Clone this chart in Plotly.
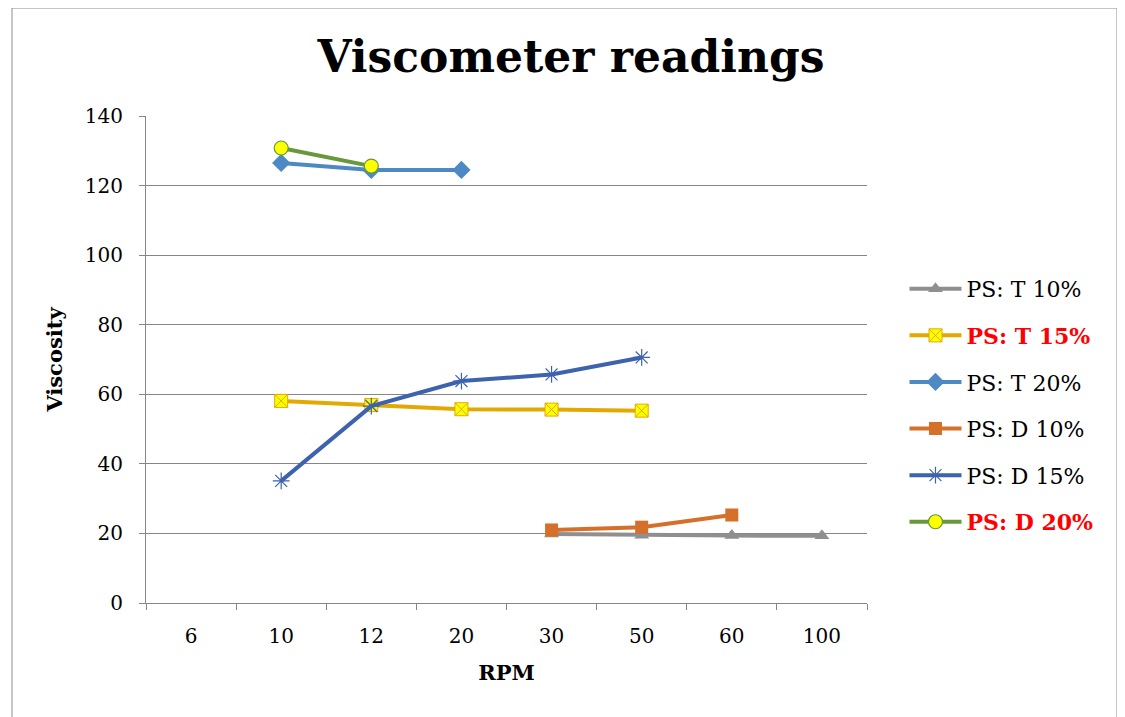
import plotly.graph_objects as go

categories = ["6", "10", "12", "20", "30", "50", "60", "100"]
series_names = ["PS: T 10%", "PS: T 15%", "PS: T 20%", "PS: D 10%", "PS: D 15%", "PS: D 20%"]
t10 = [None, None, None, None, 19.8, 19.5, 19.4, 19.3]
t15 = [None, 58.1, 56.9, 55.7, 55.6, 55.3, None, None]
t20 = [None, 126.5, 124.5, 124.5, None, None, None, None]
d10 = [None, None, None, None, 21.0, 21.8, 25.3, None]
d15 = [None, 35.1, 56.6, 63.8, 65.7, 70.6, None, None]
d20 = [None, 130.8, 125.6, None, None, None, None, None]
y_ticks = [0, 20, 40, 60, 80, 100, 120, 140]

FONT = "DejaVu Serif"

styles = [
    dict(line=dict(color="#8F8F8F", width=4),
         marker=dict(symbol="triangle-up", size=13, color="#8F8F8F", line=dict(width=0))),
    dict(line=dict(color="#E3A903", width=4),
         marker=dict(symbol="square-x", size=13, color="#FFFF00", line=dict(color="#E3A903", width=1))),
    dict(line=dict(color="#4D89C2", width=4),
         marker=dict(symbol="diamond", size=14, color="#4D89C2", line=dict(width=0))),
    dict(line=dict(color="#D5702B", width=4),
         marker=dict(symbol="square", size=13, color="#D5702B", line=dict(width=0))),
    dict(line=dict(color="#3E63AE", width=4),
         marker=dict(symbol="asterisk-open", size=14, color="#3E63AE", line=dict(color="#3E63AE", width=1.2))),
    dict(line=dict(color="#67983A", width=4),
         marker=dict(symbol="circle", size=14, color="#FFFF00", line=dict(color="#67983A", width=1.2))),
]

labels = [
    "PS: T 10%",
    "<b><span style='color:#FF0000'>PS: T 15%</span></b>",
    "PS: T 20%",
    "PS: D 10%",
    "PS: D 15%",
    "<b><span style='color:#FF0000'>PS: D 20%</span></b>",
]

fig = go.Figure()
for i, vals in enumerate([t10, t15, t20, d10, d15, d20]):
    fig.add_trace(go.Scatter(
        x=categories, y=vals, mode="lines+markers", name=labels[i],
        legendgroup=series_names[i], connectgaps=False, **styles[i]))

# page body has an 8px margin, so the plot area is placed accordingly
fig.update_layout(
    width=1125, height=717,
    margin=dict(l=138, r=266, t=108, b=122),
    paper_bgcolor="white", plot_bgcolor="white",
    font=dict(family=FONT, size=20, color="black"),
    title=dict(text="<b>Viscometer readings</b>", x=563 / 1125, xanchor="center",
               y=1 - 49 / 717, yanchor="middle",
               font=dict(family=FONT, size=44, color="black")),
    showlegend=True,
    legend=dict(x=1.052, xanchor="left", y=0.688, yanchor="top",
                font=dict(family=FONT, size=22, color="black"),
                tracegroupgap=15, itemwidth=52,
                bgcolor="rgba(0,0,0,0)"),
    xaxis=dict(type="category", categoryorder="array", categoryarray=categories,
               range=[-0.5, 7.5], showgrid=False, showline=True, linecolor="#868686",
               linewidth=1, ticks="outside", tickson="boundaries", ticklen=6,
               tickcolor="#868686", tickfont=dict(size=20), zeroline=False,
               ticklabelstandoff=15,
               title=dict(text="<b>RPM</b>", font=dict(size=21), standoff=18)),
    yaxis=dict(range=[0, 140], tickvals=y_ticks, showgrid=True, gridcolor="#868686",
               gridwidth=1, showline=True, linecolor="#868686", linewidth=1,
               ticks="outside", ticklen=6, tickcolor="#868686", zeroline=False,
               tickfont=dict(size=20), ticklabelstandoff=12,
               title=dict(text="<b>Viscosity</b>", font=dict(size=21), standoff=16)),
)

# outer chart border (bottom edge falls outside the visible page)
fig.add_shape(type="rect", xref="paper", yref="paper",
              x0=(12 - 146) / 721, x1=(1117 - 146) / 721,
              y0=(603 - 740) / 487, y1=(603 - 8) / 487,
              line=dict(color="#8C8C8C", width=1), fillcolor="rgba(0,0,0,0)", layer="below")

fig.write_html("out.html")
